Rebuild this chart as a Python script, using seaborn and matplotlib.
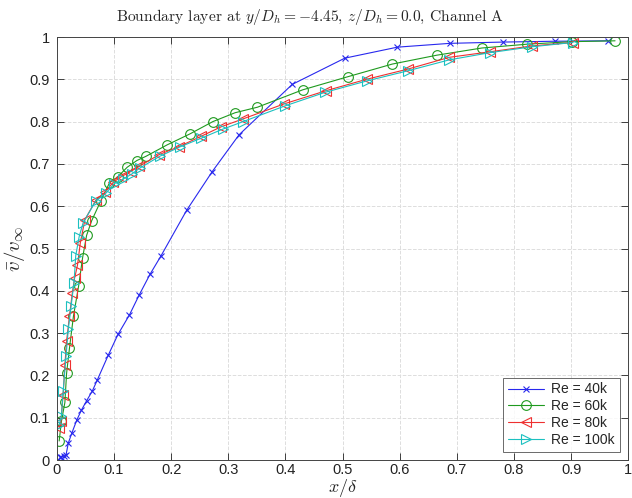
import numpy as np
import pandas as pd
import matplotlib
matplotlib.use('Agg')
import matplotlib.pyplot as plt
import seaborn as sb

# Re = 40k
x40 = [0.005, 0.008, 0.012, 0.016, 0.020, 0.026, 0.035, 0.043, 0.052, 0.062, 0.071,
       0.090, 0.107, 0.127, 0.144, 0.163, 0.182, 0.227, 0.272, 0.319, 0.412, 0.504,
       0.596, 0.688, 0.780, 0.872, 0.964]
y40 = [0.008, 0.008, 0.009, 0.012, 0.040, 0.063, 0.095, 0.118, 0.140, 0.163, 0.190,
       0.248, 0.297, 0.343, 0.390, 0.439, 0.482, 0.590, 0.682, 0.769, 0.888, 0.950,
       0.976, 0.985, 0.988, 0.990, 0.991]

# Re = 60k
x60 = [0.004, 0.008, 0.014, 0.017, 0.022, 0.029, 0.038, 0.045, 0.052, 0.061, 0.077,
       0.092, 0.107, 0.123, 0.140, 0.156, 0.193, 0.233, 0.273, 0.312, 0.351, 0.430,
       0.509, 0.587, 0.665, 0.744, 0.823, 0.901, 0.977]
y60 = [0.045, 0.092, 0.136, 0.205, 0.264, 0.340, 0.411, 0.478, 0.531, 0.566, 0.613,
       0.655, 0.670, 0.692, 0.708, 0.718, 0.745, 0.771, 0.800, 0.821, 0.834, 0.875,
       0.906, 0.936, 0.957, 0.974, 0.983, 0.989, 0.991]

# Re = 80k
x80 = [0.004, 0.007, 0.011, 0.014, 0.017, 0.022, 0.027, 0.031, 0.036, 0.041, 0.049,
       0.068, 0.084, 0.099, 0.113, 0.129, 0.144, 0.179, 0.214, 0.252, 0.288, 0.325,
       0.398, 0.471, 0.542, 0.614, 0.687, 0.758, 0.832, 0.903]
y80 = [0.075, 0.092, 0.154, 0.225, 0.281, 0.340, 0.395, 0.430, 0.460, 0.513, 0.568,
       0.614, 0.633, 0.657, 0.670, 0.682, 0.694, 0.722, 0.741, 0.765, 0.788, 0.806,
       0.842, 0.873, 0.900, 0.924, 0.952, 0.965, 0.979, 0.987]

# Re = 100k
x100 = [0.004, 0.008, 0.011, 0.016, 0.020, 0.025, 0.030, 0.033, 0.039, 0.046, 0.068,
        0.086, 0.100, 0.116, 0.131, 0.145, 0.180, 0.215, 0.253, 0.290, 0.326, 0.399,
        0.469, 0.542, 0.614, 0.687, 0.758, 0.832, 0.903]
y100 = [0.083, 0.105, 0.163, 0.245, 0.309, 0.365, 0.419, 0.483, 0.528, 0.561, 0.612,
        0.631, 0.653, 0.664, 0.676, 0.690, 0.718, 0.740, 0.761, 0.782, 0.800, 0.837,
        0.869, 0.896, 0.920, 0.946, 0.963, 0.977, 0.987]

labels = ['Re = 40k', 'Re = 60k', 'Re = 80k', 'Re = 100k']
colors = ['#2828ee', '#1f9a1f', '#ee3030', '#1cc0c0']
markers = ['x', 'o', '<', '>']
sizes = [5, 7, 7, 7]

sb.set_style('white')
plt.rcParams['font.family'] = ['Liberation Sans', 'DejaVu Sans']
plt.rcParams['mathtext.fontset'] = 'cm'

fig = plt.figure(figsize=(6.32, 4.98), dpi=100)
ax = fig.add_axes([0.090, 0.0763, 0.904, 0.8494])

series = [(x40, y40), (x60, y60), (x80, y80), (x100, y100)]
for (xs, ys), lab, col, mk, sz in zip(series, labels, colors, markers, sizes):
    df = pd.DataFrame({'x': xs, 'y': ys})
    sb.lineplot(data=df, x='x', y='y', ax=ax, sort=False, estimator=None,
                color=col, marker=mk, ms=sz, mfc='none', mec=col, mew=0.8,
                lw=0.8, label=lab)

ax.set_xlim(0, 1)
ax.set_ylim(0, 1)
ticks = np.round(np.arange(0, 1.01, 0.1), 1)
ticklabels = ['0'] + ['%.1f' % t for t in ticks[1:-1]] + ['1']
ax.set_xticks(ticks)
ax.set_xticklabels(ticklabels)
ax.set_yticks(ticks)
ax.set_yticklabels(ticklabels)
ax.tick_params(direction='in', length=5, width=0.6, labelsize=10.5, colors='#222222',
               top=True, right=True, bottom=True, left=True, pad=5)
ax.tick_params(axis='x', pad=2.5)
ax.grid(True, ls='--', color='#dddddd', lw=0.7)
for s in ax.spines.values():
    s.set_color('#444444')
    s.set_linewidth(0.7)

ax.set_xlabel(r'$x/\delta$', fontsize=13, va='center')
ax.xaxis.set_label_coords(0.5, -0.066)
ax.set_ylabel(r'$\bar{v}/v_\infty$', fontsize=15, labelpad=2)

fig.text(0.49, 0.957, r'Boundary layer at $y/D_h = -4.45$, $z/D_h = 0.0$, Channel A',
         ha='center', va='baseline', fontsize=11.2, family='cmr10')

leg = ax.legend(loc='lower right', fontsize=10, frameon=True, fancybox=False,
                edgecolor='#444444', borderaxespad=0.6, handlelength=2.6,
                labelspacing=0.2, handletextpad=0.5, borderpad=0.35)
leg.get_frame().set_linewidth(0.7)

plt.savefig('out.png', dpi=100)
